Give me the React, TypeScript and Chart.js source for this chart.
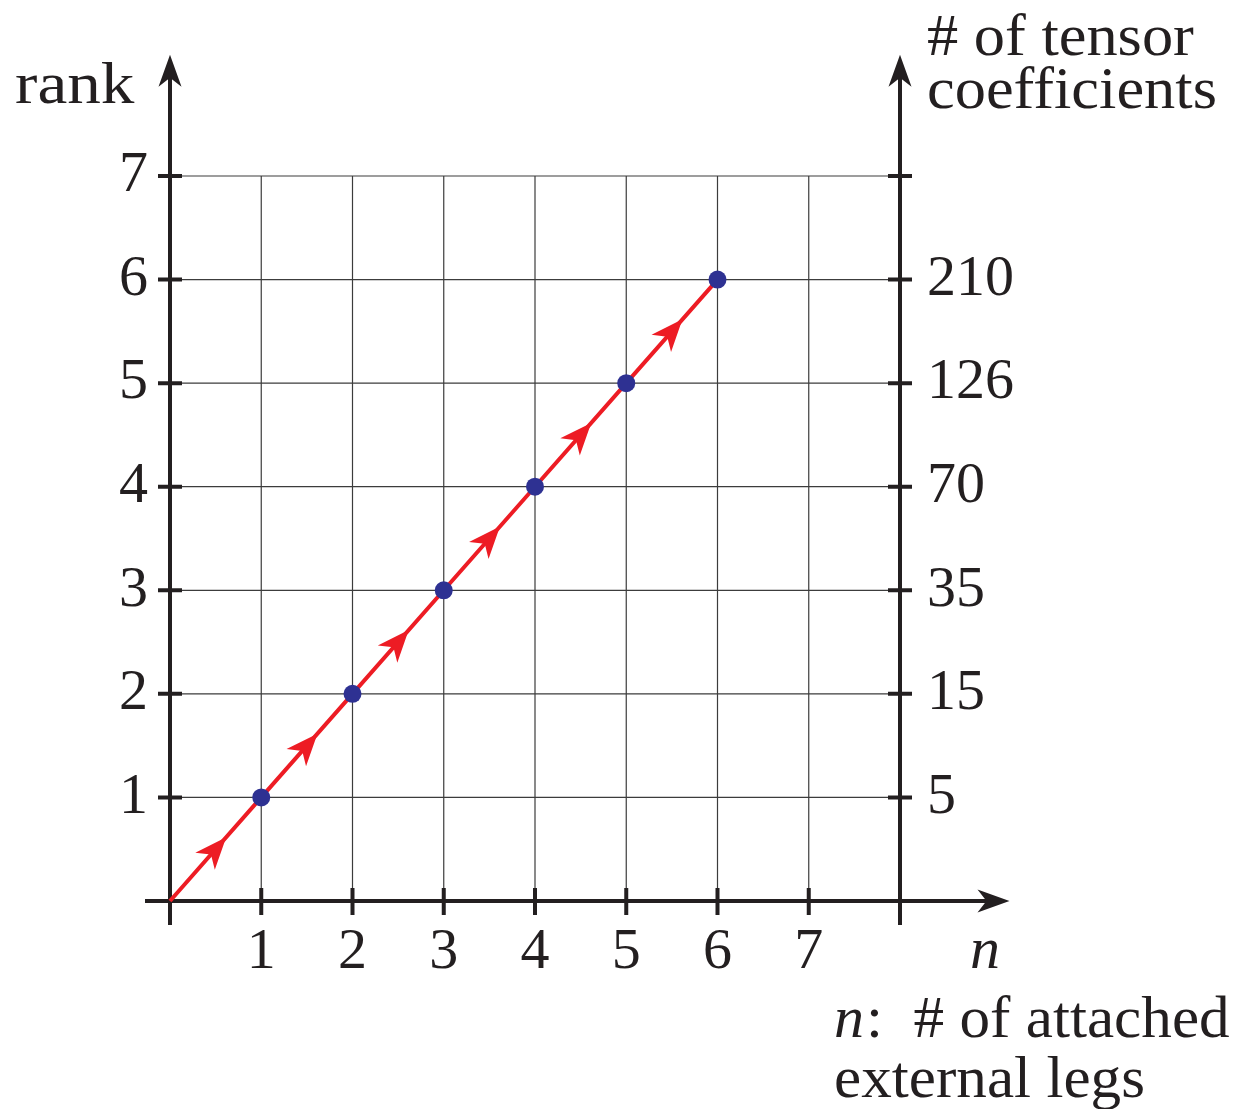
import React, { useEffect, useRef } from "react";
import { Chart, registerables } from "chart.js";

Chart.register(...registerables);

// Number of attached external legs and the resulting tensor rank
const legs = [0, 1, 2, 3, 4, 5, 6];
const rank = [0, 1, 2, 3, 4, 5, 6];
// Independent tensor coefficients for each rank (right axis)
const coeffRanks = [1, 2, 3, 4, 5, 6];
const coeffLabels = ["5", "15", "35", "70", "126", "210"];
// Tick labels
const xTicks = [1, 2, 3, 4, 5, 6, 7];
const yTicks = [1, 2, 3, 4, 5, 6, 7];

const X_MAX = 8;
const Y_MAX = 7;

const RED = "#ED1C24";
const BLUE = "#2E3192";
const INK = "#231F20";
const GRID = "#3c3c3c";
const FONT = '"Liberation Serif", "Times New Roman", serif';
const SIZE = 58;
const LABEL_SIZE = 60;

function stealth(
  ctx: CanvasRenderingContext2D,
  tipX: number,
  tipY: number,
  angle: number,
  len: number,
  wid: number,
  color: string
) {
  ctx.save();
  ctx.translate(tipX, tipY);
  ctx.rotate(angle);
  ctx.fillStyle = color;
  ctx.beginPath();
  ctx.moveTo(0, 0);
  ctx.lineTo(-len, -wid / 2);
  ctx.lineTo(-len * 0.72, 0);
  ctx.lineTo(-len, wid / 2);
  ctx.closePath();
  ctx.fill();
  ctx.restore();
}

// draws a label slightly widened, anchored at its left baseline point
function wideText(ctx: CanvasRenderingContext2D, text: string, x: number, y: number, stretch: number) {
  ctx.save();
  ctx.translate(x, y);
  ctx.scale(stretch, 1);
  ctx.fillText(text, 0, 0);
  ctx.restore();
}

const frame = {
  id: "frame",
  beforeDatasetsDraw(chart: any) {
    const { ctx, scales } = chart;
    const px = (v: number) => scales.x.getPixelForValue(v);
    const py = (v: number) => scales.y.getPixelForValue(v);
    ctx.save();
    // grid
    ctx.strokeStyle = GRID;
    ctx.lineWidth = 1.2;
    ctx.beginPath();
    for (const t of xTicks) {
      ctx.moveTo(px(t), py(0));
      ctx.lineTo(px(t), py(Y_MAX));
    }
    for (const t of yTicks) {
      ctx.moveTo(px(0), py(t));
      ctx.lineTo(px(X_MAX), py(t));
    }
    ctx.stroke();

    // axes
    ctx.strokeStyle = INK;
    ctx.lineWidth = 4;
    ctx.lineCap = "butt";
    const x0 = px(0);
    const x8 = px(X_MAX);
    const y0 = py(0);
    const topTip = py(8.17);
    const rightTip = px(9.2);
    ctx.beginPath();
    ctx.moveTo(x0, y0 + 24);
    ctx.lineTo(x0, topTip + 20);
    ctx.moveTo(x8, y0 + 24);
    ctx.lineTo(x8, topTip + 20);
    ctx.moveTo(x0 - 25, y0);
    ctx.lineTo(rightTip - 20, y0);
    // ticks
    for (const t of yTicks) {
      ctx.moveTo(x0 - 12, py(t));
      ctx.lineTo(x0 + 12, py(t));
      ctx.moveTo(x8 - 12, py(t));
      ctx.lineTo(x8 + 12, py(t));
    }
    for (const t of xTicks) {
      ctx.moveTo(px(t), y0 - 13);
      ctx.lineTo(px(t), y0 + 14);
    }
    ctx.stroke();
    stealth(ctx, x0, topTip, -Math.PI / 2, 32, 23, INK);
    stealth(ctx, x8, topTip, -Math.PI / 2, 32, 23, INK);
    stealth(ctx, rightTip, y0, 0, 32, 23, INK);
    ctx.restore();
  },
  afterDatasetsDraw(chart: any) {
    const { ctx, scales } = chart;
    const px = (v: number) => scales.x.getPixelForValue(v);
    const py = (v: number) => scales.y.getPixelForValue(v);
    // direction arrows at the middle of each segment
    for (let i = 0; i < legs.length - 1; i++) {
      const ax = px(legs[i]);
      const ay = py(rank[i]);
      const bx = px(legs[i + 1]);
      const by = py(rank[i + 1]);
      const ang = Math.atan2(by - ay, bx - ax);
      const mx = (ax + bx) / 2;
      const my = (ay + by) / 2;
      const half = 16;
      stealth(ctx, mx + Math.cos(ang) * half, my + Math.sin(ang) * half, ang, 32, 26, RED);
    }
  },
  afterDraw(chart: any) {
    const { ctx, scales } = chart;
    const px = (v: number) => scales.x.getPixelForValue(v);
    const py = (v: number) => scales.y.getPixelForValue(v);
    ctx.save();
    ctx.fillStyle = INK;
    ctx.font = `${SIZE}px ${FONT}`;
    // left tick labels
    ctx.textAlign = "right";
    ctx.textBaseline = "middle";
    for (const t of yTicks) ctx.fillText(String(t), px(0) - 22, py(t));
    // right tick labels
    ctx.textAlign = "left";
    coeffRanks.forEach((r, i) => ctx.fillText(coeffLabels[i], px(X_MAX) + 27, py(r)));
    // bottom tick labels
    ctx.textAlign = "center";
    ctx.textBaseline = "alphabetic";
    for (const t of xTicks) ctx.fillText(String(t), px(t), py(0) + 67);

    // axis titles
    ctx.textAlign = "left";
    ctx.font = `${LABEL_SIZE}px ${FONT}`;
    wideText(ctx, "rank", 15, 103, 1.12);
    wideText(ctx, "# of tensor", 927, 55, 1.04);
    wideText(ctx, "coefficients", 927, 108, 1.04);
    ctx.font = `italic ${LABEL_SIZE}px ${FONT}`;
    ctx.fillText("n", 970, 968);
    ctx.fillText("n", 834, 1037);
    const w = ctx.measureText("n").width;
    ctx.font = `${LABEL_SIZE}px ${FONT}`;
    wideText(ctx, ":  # of attached", 834 + w + 2, 1037, 1.02);
    wideText(ctx, "external legs", 834, 1097, 1.02);
    ctx.restore();
  },
};

export default function App() {
  const ref = useRef<HTMLCanvasElement | null>(null);
  useEffect(() => {
    if (!ref.current) return;
    const chart = new Chart(ref.current, {
      type: "scatter",
      data: {
        datasets: [
          {
            label: "tensors",
            data: legs.slice(1).map((n, i) => ({ x: n, y: rank[i + 1] })),
            pointRadius: 9,
            pointBackgroundColor: BLUE,
            pointBorderWidth: 0,
            showLine: false,
            order: 0,
            clip: false,
          },
          {
            label: "rank",
            data: legs.map((n, i) => ({ x: n, y: rank[i] })),
            showLine: true,
            borderColor: RED,
            borderWidth: 4,
            pointRadius: 0,
            order: 1,
            clip: false,
          },
        ],
      },
      options: {
        animation: false,
        responsive: false,
        devicePixelRatio: 1,
        layout: { padding: { left: 170, right: 352, top: 176, bottom: 208 } },
        scales: {
          x: { type: "linear", min: 0, max: X_MAX, display: false },
          y: { type: "linear", min: 0, max: Y_MAX, display: false },
        },
        plugins: { legend: { display: false }, tooltip: { enabled: false } },
      },
      plugins: [frame],
    });
    return () => chart.destroy();
  }, []);
  return (
    <div style={{ position: "fixed", left: 0, top: 0, width: 1252, height: 1109, background: "#fff" }}>
      <canvas ref={ref} width={1252} height={1109} />
    </div>
  );
}
